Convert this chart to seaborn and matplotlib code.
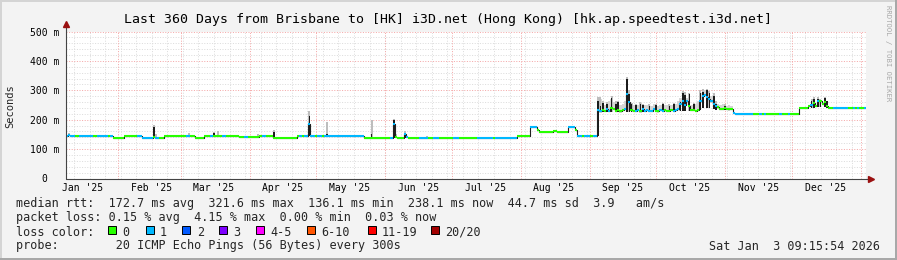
import datetime as dt
import numpy as np
import pandas as pd
import matplotlib
matplotlib.use("Agg")
import matplotlib.pyplot as plt
import matplotlib.dates as mdates
from matplotlib.patches import Rectangle
import seaborn as sns

sns.set_theme(style="white")
plt.rcParams['font.family'] = ['DejaVu Sans Mono', 'DejaVu Sans']

# ---------------- data ----------------
START = dt.datetime(2025, 1, 8, 9, 15, 54)
END = dt.datetime(2026, 1, 3, 9, 15, 54)

# daily median rtt (ms), 360 days starting at START
median_ms = [
    146, 147, 146, 146, 145, 146, 146, 146, 145, 146,
    146, 146, 145, 146, 146, 146, 145, 146, 146, 146,
    146, 137, 137, 137, 137, 137, 146, 146, 146, 146,
    146, 146, 146, 146, 139, 139, 139, 139, 139, 140,
    139, 139, 139, 139, 143, 143, 143, 143, 143, 143,
    143, 143, 143, 143, 145, 146, 145, 145, 139, 139,
    139, 139, 143, 143, 143, 143, 144, 143, 143, 143,
    143, 143, 143, 143, 143, 143, 143, 143, 141, 141,
    141, 141, 141, 141, 141, 141, 142, 143, 143, 143,
    143, 143, 143, 139, 138, 138, 138, 138, 138, 138,
    138, 138, 138, 138, 144, 144, 144, 144, 145, 187,
    145, 143, 143, 143, 143, 143, 143, 145, 144, 144,
    144, 144, 144, 144, 144, 144, 144, 144, 144, 144,
    144, 144, 144, 144, 137, 137, 137, 139, 137, 137,
    137, 137, 137, 137, 137, 137, 138, 187, 140, 137,
    137, 137, 152, 140, 137, 137, 137, 137, 137, 137,
    137, 137, 138, 137, 137, 137, 137, 137, 137, 137,
    137, 137, 137, 137, 137, 137, 137, 137, 137, 137,
    137, 137, 137, 137, 137, 137, 137, 137, 137, 137,
    137, 137, 137, 137, 137, 137, 137, 137, 137, 137,
    137, 137, 137, 144, 144, 144, 144, 144, 144, 174,
    174, 174, 166, 157, 157, 157, 157, 157, 157, 163,
    163, 157, 157, 157, 157, 157, 174, 174, 174, 166,
    144, 144, 144, 144, 144, 144, 144, 144, 144, 232,
    228, 233, 229, 235, 231, 240, 236, 230, 232, 228,
    234, 238, 289, 260, 232, 229, 231, 234, 228, 235,
    230, 232, 229, 231, 236, 230, 228, 232, 230, 233,
    229, 231, 234, 230, 232, 236, 255, 265, 250, 262,
    245, 232, 232, 231, 233, 262, 280, 285, 278, 270,
    262, 255, 248, 242, 238, 236, 240, 237, 235, 238,
    222, 221, 221, 221, 221, 221, 221, 221, 221, 219,
    219, 219, 219, 219, 219, 221, 221, 221, 221, 221,
    221, 221, 221, 221, 221, 221, 221, 221, 221, 221,
    239, 239, 239, 239, 245, 250, 258, 248, 262, 265,
    255, 260, 248, 239, 239, 239, 239, 239, 239, 239,
    239, 239, 239, 239, 239, 239, 239, 239, 239, 239,
]

# daily lost pings (of 20) -> colour of the median line
loss = [
    1, 1, 1, 1, 0, 0, 1, 1, 1, 1,
    1, 1, 0, 0, 1, 1, 1, 1, 1, 0,
    1, 0, 0, 0, 0, 0, 0, 0, 0, 0,
    0, 0, 1, 1, 1, 1, 1, 1, 1, 0,
    1, 1, 0, 0, 0, 0, 0, 0, 0, 0,
    0, 0, 0, 0, 1, 1, 0, 0, 0, 0,
    0, 0, 0, 0, 0, 1, 0, 0, 0, 0,
    1, 1, 0, 0, 0, 0, 0, 0, 0, 0,
    1, 1, 0, 0, 0, 0, 0, 0, 1, 1,
    0, 0, 0, 0, 0, 0, 0, 0, 0, 0,
    0, 0, 0, 0, 0, 1, 0, 1, 1, 1,
    1, 1, 0, 1, 1, 0, 1, 1, 1, 1,
    1, 1, 1, 1, 1, 1, 1, 1, 1, 1,
    1, 1, 1, 1, 0, 0, 0, 0, 0, 0,
    0, 0, 0, 0, 0, 0, 1, 1, 0, 0,
    0, 0, 1, 1, 0, 0, 0, 0, 0, 1,
    1, 1, 1, 0, 0, 1, 1, 1, 0, 0,
    0, 0, 0, 0, 1, 1, 1, 0, 0, 0,
    0, 0, 0, 0, 0, 1, 1, 1, 1, 1,
    1, 1, 0, 1, 1, 1, 1, 1, 1, 1,
    1, 1, 1, 0, 0, 0, 0, 0, 0, 1,
    1, 1, 0, 0, 0, 0, 0, 0, 0, 0,
    0, 0, 0, 0, 0, 0, 1, 1, 1, 0,
    1, 1, 0, 1, 1, 1, 0, 1, 1, 1,
    1, 0, 0, 1, 1, 0, 0, 0, 0, 0,
    0, 1, 1, 1, 0, 0, 1, 1, 0, 1,
    1, 1, 1, 1, 1, 0, 0, 1, 1, 0,
    0, 0, 0, 1, 1, 1, 1, 1, 1, 1,
    0, 0, 0, 0, 0, 1, 1, 1, 1, 1,
    1, 1, 1, 0, 0, 0, 0, 0, 0, 0,
    1, 1, 1, 1, 1, 1, 1, 1, 1, 0,
    0, 0, 1, 0, 1, 0, 0, 0, 0, 0,
    0, 1, 0, 0, 0, 1, 0, 0, 0, 0,
    0, 0, 0, 0, 0, 1, 0, 0, 1, 0,
    0, 0, 0, 0, 0, 1, 1, 1, 1, 1,
    1, 1, 0, 0, 1, 0, 1, 0, 0, 1,
]

# light smoke haze over the noisy Sep-Oct period: first day index, then top (ms) per day
haze_first_day = 239
haze_top = [
    262, 270, 255, 250, 258, 262, 270, 260, 255, 258,
    250, 252, 262, 300, 270, 252, 250, 250, 250, 256,
    254, 250, 250, 250, 248, 252, 250, 248, 250, 255,
    250, 250, 252, 250, 250, 252, 262, 275, 290, 280,
    275, 265, 250, 255, 252, 265, 290, 300, 300, 300,
    292, 282, 270, 258, 252, 250, 252, 250, 248, 250,
    248,
]

# smoke (ping spread) on days with wide spread: day index, low, dark-smoke top, light-smoke top (ms)
smoke_day = [1, 39, 40, 55, 66, 68, 86, 93, 109, 117, 137, 147, 148, 152, 162,
             239, 240, 241, 243, 245, 247, 248, 252, 253, 254, 256, 258, 259, 262,
             265, 268, 271, 273,
             276, 277, 278, 280, 282, 285, 286, 288, 289, 291, 292, 296,
             335, 336, 338, 339, 341, 342]
smoke_low = [146, 139, 139, 145, 143, 143, 141, 138, 144, 144, 137, 137, 137, 137, 137,
             144, 225, 226, 225, 226, 226, 226, 226, 226, 226, 226, 226, 226, 226,
             226, 226, 226, 226,
             228, 230, 230, 230, 228, 232, 240, 240, 240, 235, 232, 232,
             240, 240, 242, 242, 242, 240]
smoke_dark = [150, 175, 139, 148, 155, 143, 145, 158, 214, 150, 150, 200, 145, 152, 140,
              262, 245, 258, 254, 274, 254, 259, 339, 288, 254, 250, 255, 250, 248,
              250, 254, 248, 252,
              260, 290, 285, 288, 254, 290, 295, 300, 290, 280, 254, 248,
              265, 270, 272, 268, 275, 262]
smoke_top = [156, 182, 150, 156, 158, 160, 152, 165, 230, 191, 200, 203, 150, 160, 145,
             276, 276, 265, 260, 280, 262, 265, 345, 300, 258, 255, 260, 255, 252,
             255, 258, 252, 256,
             265, 299, 295, 290, 258, 300, 305, 305, 298, 290, 262, 252,
             272, 276, 276, 272, 278, 265]

loss_palette = {0: '#26ff00', 1: '#00b8ff', 2: '#0059ff', 3: '#7e00ff',
                4: '#ff00ff', 6: '#ff5500', 11: '#ff0000', 20: '#a10000'}
legend_labels = ['0', '1', '2', '3', '4-5', '6-10', '11-19', '20/20']
legend_colors = ['#26ff00', '#00b8ff', '#0059ff', '#7e00ff', '#ff00ff', '#ff5500', '#ff0000', '#a10000']

y_ticks = [0, 100, 200, 300, 400, 500]
y_tick_labels = ['0  ', '100 m', '200 m', '300 m', '400 m', '500 m']

title = "Last 360 Days from Brisbane to [HK] i3D.net (Hong Kong) [hk.ap.speedtest.i3d.net]"
line_rtt = "median rtt:  172.7 ms avg  321.6 ms max  136.1 ms min  238.1 ms now  44.7 ms sd  3.9   am/s"
line_loss = "packet loss: 0.15 % avg  4.15 % max  0.00 % min  0.03 % now"
line_probe = "probe:        20 ICMP Echo Pings (56 Bytes) every 300s"
stamp = "Sat Jan  3 09:15:54 2026"

# ---------------- figure ----------------
W, H = 897, 260
fig = plt.figure(figsize=(W / 100, H / 100), dpi=100)
fig.patch.set_facecolor('#f3f3f3')

L, R, T, B = 66, 866, 31.5, 178.5
ax = fig.add_axes([L / W, 1 - B / H, (R - L) / W, (B - T) / H])
ax.set_facecolor('white')
for s in ax.spines.values():
    s.set_visible(False)

x0 = mdates.date2num(START)
x1 = mdates.date2num(END)
ax.set_xlim(x0, x1)
ax.set_ylim(0, 500)

# grid
minor_c, major_c = '#dcdcdc', '#f4a8a8'
dots = (0, (1, 1.6))
for v in range(20, 500, 20):
    if v % 100:
        ax.axhline(v, color=minor_c, lw=0.72, ls=dots, zorder=0)
d = dt.datetime(2025, 1, 12)
while d < END:
    ax.axvline(mdates.date2num(d), color=minor_c, lw=0.72, ls=dots, zorder=0)
    d += dt.timedelta(days=7)
for v in range(100, 501, 100):
    ax.axhline(v, color=major_c, lw=0.72, ls=dots, zorder=0.5, clip_on=False)
for m in range(2, 14):
    md = dt.datetime(2025 + (m - 1) // 12, (m - 1) % 12 + 1, 1)
    ax.axvline(mdates.date2num(md), color=major_c, lw=0.72, ls=dots, zorder=0.5)

# haze
hx = [x0 + haze_first_day + i + 0.5 for i in range(len(haze_top))]
hm = np.array(median_ms[haze_first_day:haze_first_day + len(haze_top)])
ax.bar(hx, np.array(haze_top) - hm + 4, bottom=hm - 4, width=1.0,
       color='#d6d6d6', linewidth=0, zorder=0.9)

# smoke
sx = [x0 + dd + 0.5 for dd in smoke_day]
ax.bar(sx, np.array(smoke_top) - np.array(smoke_low), bottom=smoke_low, width=0.9,
       color='#bdbdbd', linewidth=0, zorder=1)
ax.bar(sx, np.array(smoke_dark) - np.array(smoke_low), bottom=smoke_low, width=0.75,
       color='#1c1c1c', linewidth=0, zorder=1.2)

# connector step line
n = len(median_ms)
edges = x0 + np.arange(n + 1)
ax.step(edges, list(median_ms) + [median_ms[-1]], where='post', color='#202020', lw=0.8, zorder=1.5)

# coloured median segments via seaborn
rows = []
for i, (v, l) in enumerate(zip(median_ms, loss)):
    rows.append((i, x0 + i, v, l))
    rows.append((i, x0 + i + 1, v, l))
df = pd.DataFrame(rows, columns=['seg', 'x', 'rtt', 'loss'])
sns.lineplot(data=df, x='x', y='rtt', hue='loss', units='seg', estimator=None,
             palette={k: loss_palette[k] for k in sorted(set(loss))}, legend=False,
             linewidth=1.5, ax=ax, zorder=2, solid_capstyle='butt')
ax.set_xlabel('')
ax.set_ylabel('')

# axes lines + arrows
ax.plot([0, 0], [0, 1.045], transform=ax.transAxes, color='#444444', lw=0.8, clip_on=False, zorder=3)
ax.plot([0, 1.005], [0, 0], transform=ax.transAxes, color='#444444', lw=0.8, clip_on=False, zorder=3)
ax.plot([0], [1.05], marker='^', ms=4, color='#9a1010', transform=ax.transAxes, clip_on=False, zorder=4)
ax.plot([1.006], [0], marker='>', ms=4, color='#9a1010', transform=ax.transAxes, clip_on=False, zorder=4)

# ticks
ax.set_yticks(y_ticks)
ax.set_yticklabels(y_tick_labels)
lab_dates = []
for m in range(1, 13):
    lab_dates.append(mdates.date2num(dt.datetime(2025, m, 16)))
ax.set_xticks(lab_dates)
ax.set_xticklabels([mdates.num2date(v).strftime("%b '%y") for v in lab_dates])
ax.tick_params(axis='both', length=0, labelsize=7, colors='#000000')
ax.tick_params(axis='y', pad=4.6)
ax.tick_params(axis='x', pad=3.0)


def px(x, y):
    return x / W, 1 - y / H


fig.text(*px(448, 19), title, ha='center', va='center', fontsize=9.5, color='#000000')
fig.text(*px(10, 106), 'Seconds', rotation=90, ha='center', va='center', fontsize=7.5)
fig.text(*px(888, 5), 'RRDTOOL / TOBI OETIKER', rotation=270, ha='center', va='top',
         fontsize=5.2, color='#a8a8a8')

fs = 8.5
fig.text(*px(16, 204), line_rtt, ha='left', va='center', fontsize=fs)
fig.text(*px(16, 218), line_loss, ha='left', va='center', fontsize=fs)
fig.text(*px(16, 232), 'loss color:', ha='left', va='center', fontsize=fs)
fig.text(*px(16, 246), line_probe, ha='left', va='center', fontsize=fs)
fig.text(*px(880, 246), stamp, ha='right', va='center', fontsize=fs)

label_x = [122.7, 160, 196.7, 233.3, 270, 321.7, 382, 445]
for lx, lab, col in zip(label_x, legend_labels, legend_colors):
    fig.add_artist(Rectangle(((lx - 14.5) / W, 1 - 233.5 / H), 8 / W, 8 / H,
                             transform=fig.transFigure, facecolor=col, edgecolor='black', lw=0.7))
    fig.text(*px(lx, 232), lab, ha='left', va='center', fontsize=fs)

# 3D frame
fig.add_artist(Rectangle((0, 1 - 2 / H), 1, 2 / H, transform=fig.transFigure, color='#d4d4d4', lw=0))
fig.add_artist(Rectangle((0, 0), 2 / W, 1, transform=fig.transFigure, color='#d4d4d4', lw=0))
fig.add_artist(Rectangle((0, 0), 1, 2 / H, transform=fig.transFigure, color='#a8a8a8', lw=0))
fig.add_artist(Rectangle((1 - 2 / W, 0), 2 / W, 1, transform=fig.transFigure, color='#a8a8a8', lw=0))

fig.savefig('out.png', dpi=100, facecolor=fig.get_facecolor())
